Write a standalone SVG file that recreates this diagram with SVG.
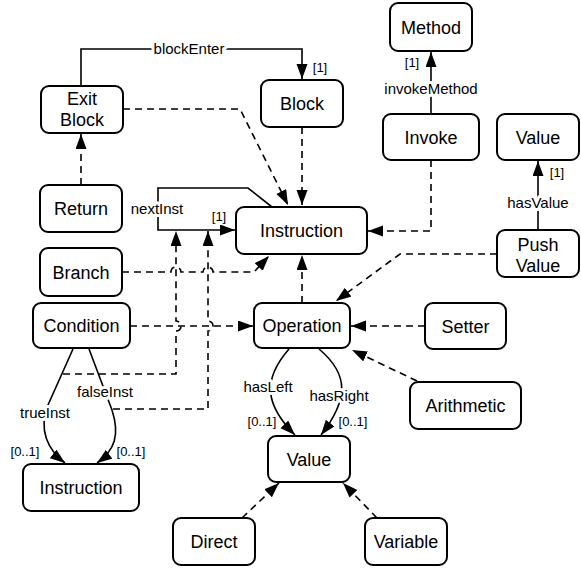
<svg xmlns="http://www.w3.org/2000/svg" width="581" height="568" viewBox="0 0 581 568">
<style>
.n rect{fill:#fff;stroke:#000;stroke-width:2}
.n text{font-family:"Liberation Sans",Arial,sans-serif;font-size:18px;text-anchor:middle;fill:#000}
.e path{fill:none;stroke:#000;stroke-width:1.6}
.e .d{stroke-dasharray:7,5}
.lbl{font-family:"Liberation Sans",Arial,sans-serif;font-size:15px;text-anchor:middle;fill:#000;paint-order:stroke;stroke:#fff;stroke-width:6px;stroke-linejoin:round}
.m{font-family:"Liberation Sans",Arial,sans-serif;font-size:13px;text-anchor:middle;fill:#000}
</style>
<defs>
<marker id="a" markerUnits="userSpaceOnUse" markerWidth="16" markerHeight="12" refX="15" refY="5.5" orient="auto" viewBox="0 0 16 12">
<path d="M0,0 L15,5.5 L0,11 z" fill="#000"/>
</marker>
</defs>
<rect width="581" height="568" fill="#fff"/>
<g id="edges" class="e">
<path d="M81,86 V49 H302 V79" marker-end="url(#a)"/>
<path d="M431,114 V52" marker-end="url(#a)"/>
<path d="M538,230 V161" marker-end="url(#a)"/>
<path class="d" d="M123,109 H240 L288,205" marker-end="url(#a)"/>
<path class="d" d="M302,127 V205" marker-end="url(#a)"/>
<path class="d" d="M81,185 V134" marker-end="url(#a)"/>
<path d="M272,207 L248,188 H158 V230 H235" marker-end="url(#a)"/>
<path class="d" d="M431,160 V231 H368" marker-end="url(#a)"/>
<path class="d" d="M497,254 H400 L336,301" marker-end="url(#a)"/>
<path class="d" d="M122,272 H171 A5,5 0 0 1 181,272 H203 A5,5 0 0 1 213,272 H254 L269,256" marker-end="url(#a)"/>
<path class="d" d="M130,326 H253" marker-end="url(#a)"/>
<path class="d" d="M302,303 V255" marker-end="url(#a)"/>
<path class="d" d="M425,326 H351" marker-end="url(#a)"/>
<path class="d" d="M417,381 L352,350" marker-end="url(#a)"/>
<path class="d" d="M63,374 H176 V331 A5,5 0 0 0 176,321 V231" marker-end="url(#a)"/>
<path class="d" d="M113,409 H208 V331 A5,5 0 0 0 208,321 V231" marker-end="url(#a)"/>
<path d="M73,349 L48,405 C38,430 48,450 65,463" marker-end="url(#a)"/>
<path d="M89,349 L112,410 C120,435 115,450 97,463" marker-end="url(#a)"/>
<path d="M289,349 C262,380 265,405 295,435" marker-end="url(#a)"/>
<path d="M319,349 C350,375 348,400 321,435" marker-end="url(#a)"/>
<path class="d" d="M242,518 L279,483" marker-end="url(#a)"/>
<path class="d" d="M377,518 L343,483" marker-end="url(#a)"/>
<text class="lbl" x="189" y="54">blockEnter</text>
<text class="lbl" x="431" y="94">invokeMethod</text>
<text class="lbl" x="538" y="208">hasValue</text>
<text class="lbl" x="157" y="214">nextInst</text>
<text class="lbl" x="45" y="418">trueInst</text>
<text class="lbl" x="105" y="397">falseInst</text>
<text class="lbl" x="268" y="392">hasLeft</text>
<text class="lbl" x="339" y="401">hasRight</text>
<text class="m" x="320" y="72">[1]</text>
<text class="m" x="412" y="67">[1]</text>
<text class="m" x="557" y="177">[1]</text>
<text class="m" x="219" y="221">[1]</text>
<text class="m" x="25" y="456">[0..1]</text>
<text class="m" x="131" y="456">[0..1]</text>
<text class="m" x="262" y="426">[0..1]</text>
<text class="m" x="353" y="426">[0..1]</text>
</g>
<g id="Method" class="n"><rect x="390" y="3" width="82" height="48" rx="8"/><text x="431" y="33.5">Method</text></g>
<g id="Invoke" class="n"><rect x="383" y="114" width="96" height="46" rx="8"/><text x="431" y="143.5">Invoke</text></g>
<g id="ValueTop" class="n"><rect x="497" y="114" width="82" height="46" rx="8"/><text x="538" y="143.5">Value</text></g>
<g id="PushValue" class="n"><rect x="497" y="230" width="82" height="47" rx="8"/><text x="538" y="250.5">Push</text><text x="538" y="271.5">Value</text></g>
<g id="ExitBlock" class="n"><rect x="41" y="86" width="82" height="47" rx="8"/><text x="82" y="104.5">Exit</text><text x="82" y="125.5">Block</text></g>
<g id="Block" class="n"><rect x="261" y="80" width="82" height="47" rx="8"/><text x="302" y="109.5">Block</text></g>
<g id="Return" class="n"><rect x="40" y="185" width="82" height="47" rx="8"/><text x="81" y="214.5">Return</text></g>
<g id="Instruction" class="n"><rect x="236" y="207" width="131" height="47" rx="8"/><text x="301.5" y="236.5">Instruction</text></g>
<g id="Branch" class="n"><rect x="40" y="248" width="82" height="48" rx="8"/><text x="81" y="278.5">Branch</text></g>
<g id="Condition" class="n"><rect x="33" y="303" width="97" height="45" rx="8"/><text x="81.5" y="331.5">Condition</text></g>
<g id="Operation" class="n"><rect x="254" y="303" width="96" height="45" rx="8"/><text x="302" y="331.5">Operation</text></g>
<g id="Setter" class="n"><rect x="425" y="303" width="81" height="46" rx="8"/><text x="465.5" y="332.5">Setter</text></g>
<g id="Arithmetic" class="n"><rect x="410" y="382" width="111" height="47" rx="8"/><text x="465.5" y="411.5">Arithmetic</text></g>
<g id="Value" class="n"><rect x="268" y="436" width="82" height="46" rx="8"/><text x="309" y="465.5">Value</text></g>
<g id="InstructionTarget" class="n"><rect x="23" y="464" width="116" height="47" rx="8"/><text x="81" y="493.5">Instruction</text></g>
<g id="Direct" class="n"><rect x="173" y="518" width="82" height="47" rx="8"/><text x="214" y="547.5">Direct</text></g>
<g id="Variable" class="n"><rect x="365" y="518" width="82" height="47" rx="8"/><text x="406" y="547.5">Variable</text></g>
</svg>
